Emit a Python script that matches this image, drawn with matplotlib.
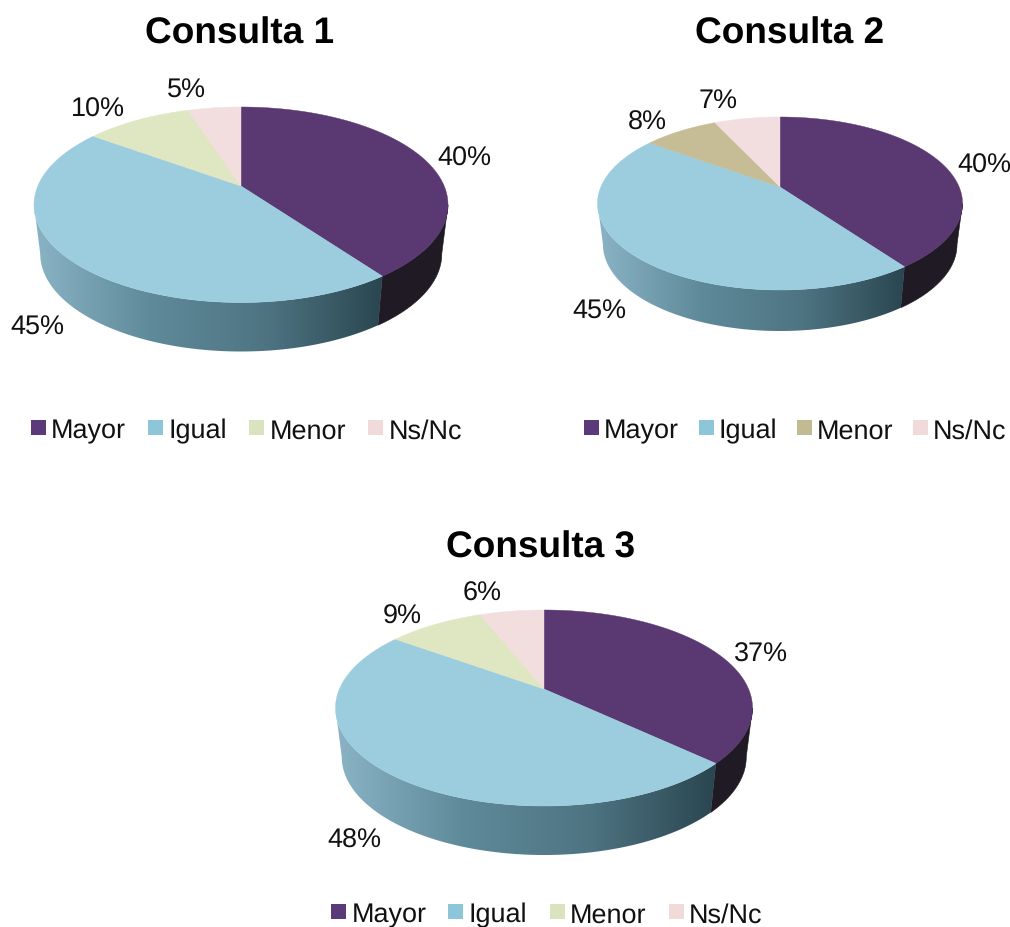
import numpy as np
import matplotlib
matplotlib.use("Agg")
import matplotlib.pyplot as plt
from matplotlib.colors import LinearSegmentedColormap
from matplotlib.patches import Polygon, Rectangle

plt.rcParams['font.family'] = ['Liberation Sans', 'DejaVu Sans']
plt.rcParams['text.hinting'] = 'none'
plt.rcParams['text.hinting_factor'] = 1

# datos
categorias = ["Mayor", "Igual", "Menor", "Ns/Nc"]
consultas = ["Consulta 1", "Consulta 2", "Consulta 3"]
valores_1 = [40, 45, 10, 5]
valores_2 = [40, 45, 8, 7]
valores_3 = [37, 48, 9, 6]

# colores
morado = "#5A3872"
azul = "#9CCDDE"
verde = "#DFE6C2"
rosa = "#F2DEDE"
tostado = "#C6BC95"
colores_1 = [morado, azul, verde, rosa]
colores_2 = [morado, azul, tostado, rosa]
colores_3 = [morado, azul, verde, rosa]
leyenda_1 = ["#5A3A78", "#8DC6D9", "#D9E4BE", "#F0DADA"]
leyenda_2 = ["#5A3A78", "#8DC6D9", "#C2BA92", "#F0DADA"]
leyenda_3 = ["#5A3A78", "#8DC6D9", "#D9E4BE", "#F0DADA"]
lado_oscuro = "#1F1A24"
degradado = LinearSegmentedColormap.from_list("lado", ["#8AB4C5", "#5F8A9A", "#4E7482", "#2A4650"])


def proyectar(ang, cx, cy, rx, ry, k):
    # circulo unidad visto en perspectiva, ang en sentido horario desde arriba
    u = np.sin(ang)
    v = -np.cos(ang)
    d = 1 - k * v
    return cx + rx * u / d, cy + ry * v / d


def pastel(ax, valores, colores, cx, cy, izq, der, atras, frente, prof):
    k = (frente - atras) / (frente + atras)
    ry = frente * (1 - k)
    rx = (der - izq) / 2 * np.sqrt(1 - k ** 2)
    fracc = np.cumsum([0] + valores) / sum(valores) * 2 * np.pi

    # lados, solo la parte de adelante entre las dos tangentes
    tan_der = np.arccos(-k)
    tan_izq = 2 * np.pi - tan_der
    for i in range(len(valores)):
        a0 = max(fracc[i], tan_der)
        a1 = min(fracc[i + 1], tan_izq)
        if a0 >= a1:
            continue
        ang = np.linspace(a0, a1, 200)
        x, y = proyectar(ang, cx, cy, rx, ry, k)
        xb = cx + (x - cx) * 0.97
        yb = y + prof
        pts = list(zip(x, y)) + list(zip(xb[::-1], yb[::-1]))
        if i == 1:
            # la porcion azul lleva degradado de izquierda a derecha
            forma = Polygon(pts, closed=True, facecolor="none", edgecolor="none")
            ax.add_patch(forma)
            grad = np.linspace(0, 1, 256).reshape(1, -1)
            im = ax.imshow(grad, cmap=degradado, aspect="auto", interpolation="bilinear",
                           extent=(izq, x[0], cy + frente + prof + 2, cy - 20), zorder=1)
            im.set_clip_path(forma)
        else:
            ax.add_patch(Polygon(pts, closed=True, facecolor=lado_oscuro, edgecolor=lado_oscuro,
                                 linewidth=0.4, zorder=1))

    # cara superior
    for i in range(len(valores)):
        ang = np.linspace(fracc[i], fracc[i + 1], 200)
        x, y = proyectar(ang, cx, cy, rx, ry, k)
        pts = [(cx, cy)] + list(zip(x, y))
        ax.add_patch(Polygon(pts, closed=True, facecolor=colores[i], edgecolor=colores[i],
                             linewidth=0.3, zorder=2))


def leyenda(ax, colores, xs, xt, yc):
    for i in range(len(categorias)):
        ax.add_patch(Rectangle((xs[i], yc - 7.5), 14.5, 15, facecolor=colores[i], edgecolor="none"))
        ax.text(xt[i], yc, categorias[i], fontsize=tam, ha="left", va="center_baseline", color="#111111")


def etiquetas(ax, valores, posiciones):
    for v, (x, y) in zip(valores, posiciones):
        ax.text(x, y, str(v) + "%", fontsize=tam, ha="center", va="center_baseline", color="#111111", zorder=3)


tam = 19.2

fig = plt.figure(figsize=(10.10, 9.28), dpi=100)
ax = fig.add_axes([0, 0, 1, 1])

# Consulta 1
pastel(ax, valores_1, colores_1, 241, 187, 34, 448, 79, 116.5, 49)
etiquetas(ax, valores_1, [(464, 156), (37, 325), (98, 107), (186, 88)])
leyenda(ax, leyenda_1, [31, 148, 249, 368], [51, 169, 270, 389], 428.5)
ax.text(240, 30, consultas[0], fontsize=26.5, fontweight="bold", ha="center", va="center_baseline", color="black")

# Consulta 2
pastel(ax, valores_2, colores_2, 780, 188, 598, 963, 70, 103, 41)
etiquetas(ax, valores_2, [(984, 163), (599, 309), (647, 120), (718, 98)])
leyenda(ax, leyenda_2, [584, 699, 797, 913], [604, 719, 817, 933], 428.5)
ax.text(790, 30, consultas[1], fontsize=26.5, fontweight="bold", ha="center", va="center_baseline", color="black")

# Consulta 3
pastel(ax, valores_3, colores_3, 544, 690, 336, 753, 79, 117, 49)
etiquetas(ax, valores_3, [(761, 652), (354, 838), (402, 614), (482, 591)])
leyenda(ax, leyenda_3, [331, 448, 550, 669], [352, 469, 570, 689], 912.5)
ax.text(541, 544, consultas[2], fontsize=26.5, fontweight="bold", ha="center", va="center_baseline", color="black")

ax.set_xlim(0, 1010)
ax.set_ylim(928, 0)
ax.axis("off")

fig.savefig("out.png", dpi=100, facecolor="white")
